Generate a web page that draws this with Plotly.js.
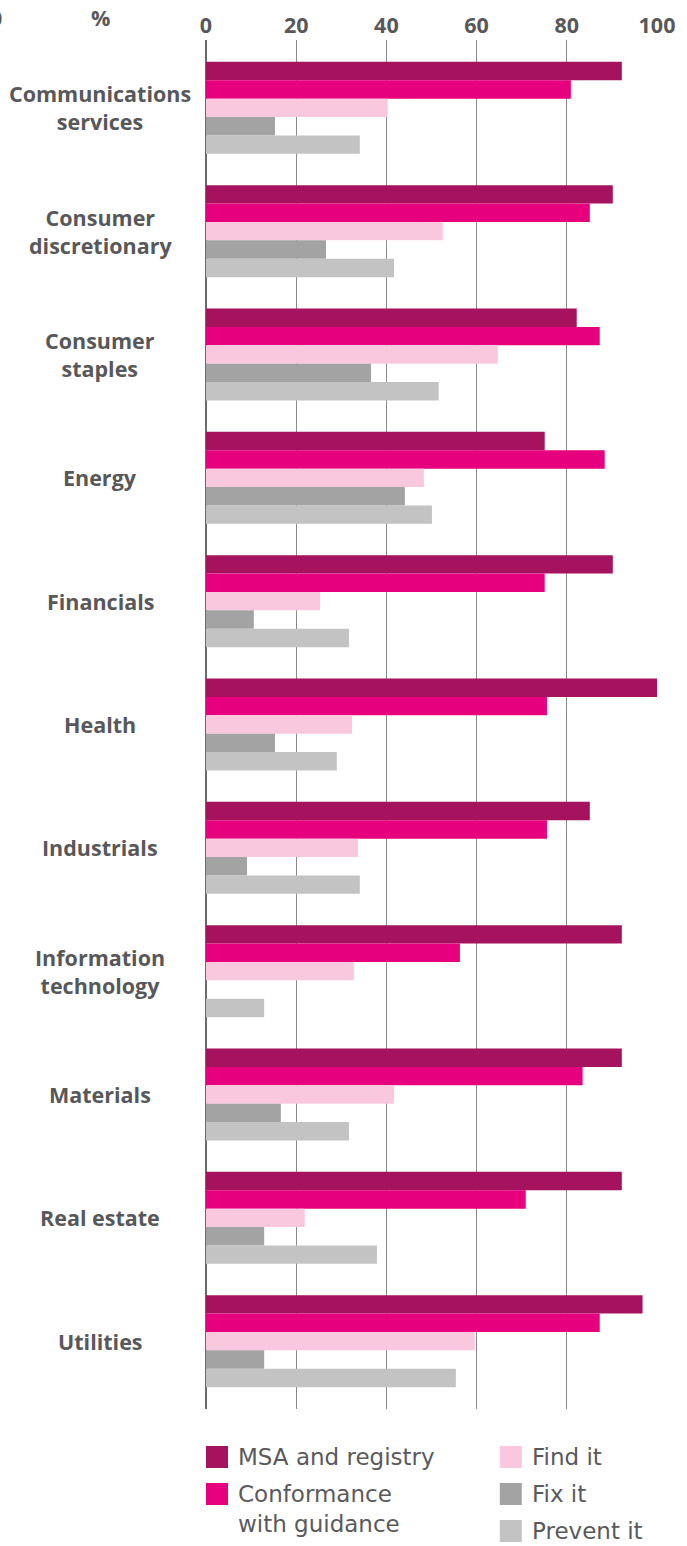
<!DOCTYPE html>
<html>
<head>
<meta charset="utf-8">
<script src="https://cdn.plot.ly/plotly-3.0.1.min.js"></script>
<style>
html,body{margin:0;padding:0;background:#fff;}
#chart{width:687px;height:1546px;}
</style>
</head>
<body>
<div id="chart"></div>
<script>
const categories = ["Communications services","Consumer discretionary","Consumer staples","Energy","Financials","Health","Industrials","Information technology","Materials","Real estate","Utilities"];
const categoryLabels = ["Communications<br>services","Consumer<br>discretionary","Consumer<br>staples","Energy","Financials","Health","Industrials","Information<br>technology","Materials","Real estate","Utilities"];
const seriesNames = ["MSA and registry","Conformance<br>with guidance","Find it","Fix it","Prevent it"];
const msaRegistry = [92.2, 90.2, 82.2, 75.1, 90.2, 100, 85.1, 92.2, 92.2, 92.2, 96.8];
const conformance = [80.9, 85.1, 87.3, 88.4, 75.1, 75.6, 75.6, 56.3, 83.5, 70.9, 87.3];
const findIt = [40.3, 52.5, 64.7, 48.3, 25.3, 32.4, 33.7, 32.8, 41.7, 21.9, 59.6];
const fixIt = [15.3, 26.6, 36.6, 44.1, 10.6, 15.3, 9.1, 0, 16.6, 12.9, 12.9];
const preventIt = [34.1, 41.7, 51.6, 50.1, 31.7, 29.0, 34.1, 12.9, 31.7, 37.9, 55.4];
const tickValues = [0, 20, 40, 60, 80, 100];
const colors = ["#A5135E", "#E6007E", "#F9C8DE", "#A3A3A3", "#C3C3C3"];

const seriesValues = [msaRegistry, conformance, findIt, fixIt, preventIt];
const traces = seriesValues.map((vals, i) => ({
  type: "bar",
  orientation: "h",
  y: categories,
  x: vals,
  name: seriesNames[i],
  marker: {color: colors[i], line: {width: 0}},
  hoverinfo: "x+y"
}));

// pixel helpers (plot area: left 206, width 451.3, top 40, height 1369)
const W = 687, H = 1546;
const mL = 206, mR = W - 657.3, mT = 40, mB = H - 1409;
const pw = W - mL - mR, ph = H - mT - mB;
const PX = px => (px - mL) / pw;
const PY = py => (H - mB - py) / ph;

const labelFont = {family: "Open Sans, sans-serif", size: 21.5, color: "#58585A", weight: 700};
const legendFont = {family: "DejaVu Sans, sans-serif", size: 23, color: "#5A5A5C"};

const annotations = categories.map((c, i) => ({
  xref: "paper", yref: "y", x: PX(100), y: c,
  xanchor: "center", yanchor: "middle", align: "center",
  text: categoryLabels[i], showarrow: false, font: labelFont
}));
annotations.push({xref: "paper", yref: "paper", x: PX(100), y: PY(18), xanchor: "center", yanchor: "middle", text: "%", showarrow: false, font: labelFont});
annotations.push({xref: "paper", yref: "paper", x: PX(4), y: PY(18), xanchor: "right", yanchor: "middle", text: "0", showarrow: false, font: labelFont});

// manual legend (two columns)
const legendPos = [
  {sx: 206, sy: 1446, ty: 1457},
  {sx: 206, sy: 1483, ty: 1509},
  {sx: 500, sy: 1446, ty: 1457},
  {sx: 500, sy: 1483, ty: 1494},
  {sx: 500, sy: 1520, ty: 1531}
];
const shapes = [];
legendPos.forEach((p, i) => {
  shapes.push({type: "rect", xref: "paper", yref: "paper",
    x0: PX(p.sx), x1: PX(p.sx + 22), y0: PY(p.sy + 22), y1: PY(p.sy),
    fillcolor: colors[i], line: {width: 0}});
  annotations.push({xref: "paper", yref: "paper", x: PX(p.sx + 30), y: PY(p.ty),
    xanchor: "left", yanchor: "middle", align: "left",
    text: seriesNames[i], showarrow: false, font: legendFont});
});

const layout = {
  width: W, height: H,
  margin: {l: mL, r: mR, t: mT, b: mB, pad: 0},
  paper_bgcolor: "#fff", plot_bgcolor: "#fff",
  barmode: "group", bargap: 0.254, bargroupgap: 0,
  showlegend: false,
  xaxis: {
    side: "top", range: [0, 100], autorange: false,
    tickvals: tickValues, ticktext: tickValues.map(String),
    tickfont: labelFont, ticks: "", ticklabelstandoff: 2,
    showgrid: true, gridcolor: "#8A8A8A", gridwidth: 1.2,
    zeroline: true, zerolinecolor: "#6B6B6B", zerolinewidth: 1.6,
    showline: false, fixedrange: true
  },
  yaxis: {
    type: "category", categoryorder: "array", categoryarray: categories,
    range: [10.55, -0.55], autorange: false,
    showticklabels: false, ticks: "", showgrid: false, zeroline: false, showline: false
  },
  annotations: annotations,
  shapes: shapes
};

Plotly.newPlot("chart", traces, layout, {displayModeBar: false, staticPlot: true});
</script>
</body>
</html>
